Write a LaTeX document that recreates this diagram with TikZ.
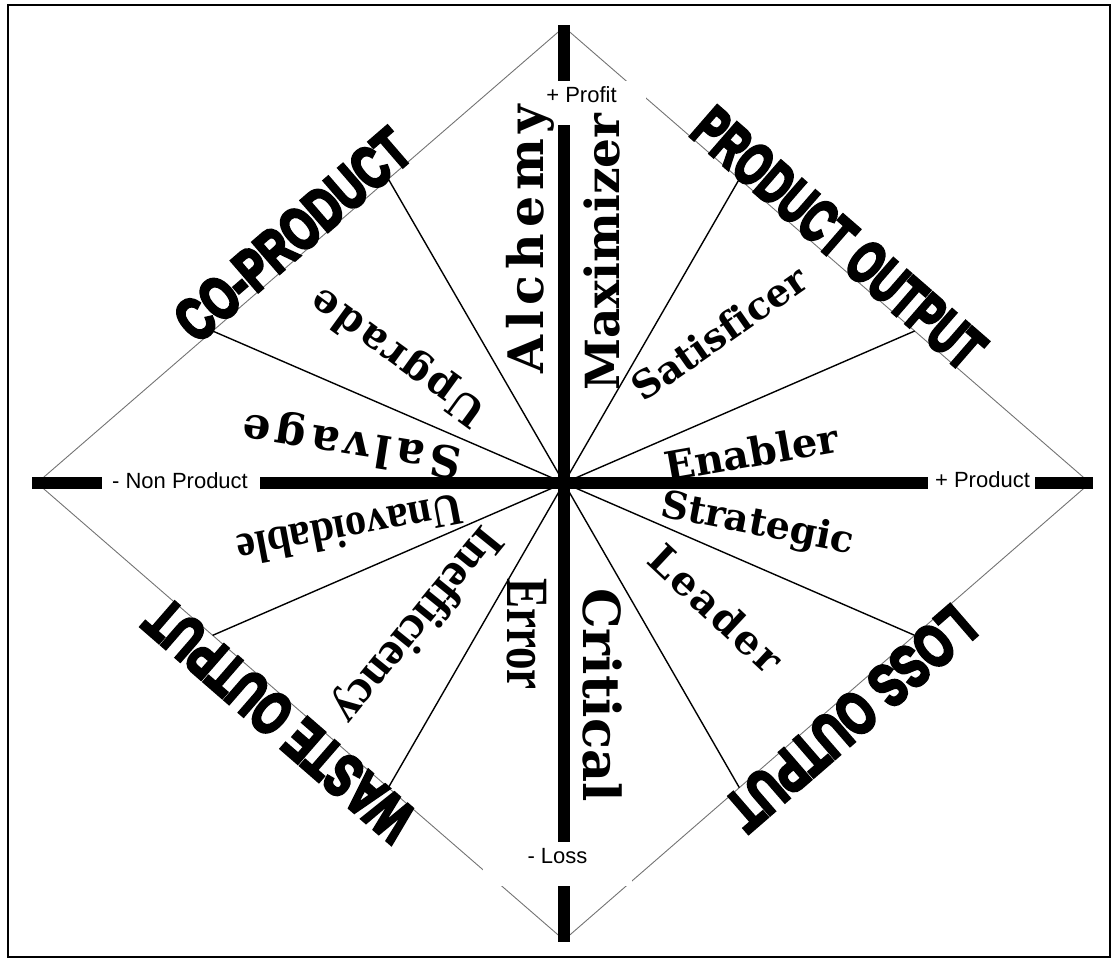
\documentclass[tikz,border=0pt]{standalone}
\usepackage{fontspec}
\setmainfont{Liberation Serif}
\newfontfamily\axfont{Liberation Sans}
\newfontfamily\bigfont{Liberation Sans Bold}[FakeBold=6]
\newfontfamily\slabfont{DejaVu Serif Bold}[Ligatures=CommonOff]
\newfontfamily\timesb{Liberation Serif Bold}[Ligatures=CommonOff]
\newcommand\ls{\kern0.12em}
\newcommand\lt{\kern0.06em}
\usetikzlibrary{calc}
\begin{document}
\begin{tikzpicture}[x=1pt,y=-1pt,
  frame/.style={line width=1.5pt},
  edge/.style={draw=black!55, line width=0.9pt},
  spoke/.style={line width=1.4pt},
  axisbar/.style={line width=12pt},
  gapbox/.style={fill=white, inner sep=0pt, minimum height=44pt},
  axtext/.style={font=\axfont\fontsize{22}{22}\selectfont, inner sep=0pt, anchor=base},
  biglbl/.style={font=\bigfont\fontsize{59}{59}\selectfont, inner sep=0pt, anchor=base},
  lbl/.style={inner sep=0pt}]
\useasboundingbox (0,0) rectangle (1117,962);
\draw[frame] (8,5) rectangle (1110,957);
% diamond vertices and centre
\coordinate (L) at (37,483);
\coordinate (T) at (564,27);
\coordinate (R) at (1090,483);
\coordinate (B) at (564,940);
\coordinate (C) at (564,483);
\draw[edge] (L) -- (T) -- (R) -- (B) -- cycle;
% spokes to the third points of each edge
\coordinate (ulA) at ($(L)!1/3!(T)$);
\coordinate (ulB) at ($(L)!2/3!(T)$);
\coordinate (urA) at ($(T)!1/3!(R)$);
\coordinate (urB) at ($(T)!2/3!(R)$);
\coordinate (lrA) at ($(R)!1/3!(B)$);
\coordinate (lrB) at ($(R)!2/3!(B)$);
\coordinate (llA) at ($(B)!1/3!(L)$);
\coordinate (llB) at ($(B)!2/3!(L)$);
\foreach \p in {ulA,ulB,urA,urB,lrA,lrB,llA,llB} \draw[spoke] (C) -- (\p);
% axes
\coordinate (axW) at (32,483);
\coordinate (axE) at (1093,483);
\coordinate (axN) at (564,25);
\coordinate (axS) at (564,942);
\draw[axisbar] (axW) -- (axE);
\draw[axisbar] (axN) -- (axS);
% axis labels
\node[gapbox, minimum width=129pt] (profitgap) at (581.5,103) {};
\node[axtext] (profit) at (581.5,102) {+ Profit};
\node[gapbox, minimum width=149pt] (lossgap) at (557.5,864) {};
\node[axtext] (loss) at (557.5,863) {- Loss};
\node[gapbox, minimum width=158pt] (nongap) at (181,483) {};
\node[axtext] (nonprod) at (180,488) {- Non Product};
\node[gapbox, minimum width=107pt] (prodgap) at (981.5,483) {};
\node[axtext] (prod) at (982.5,487) {+ Product};
% big edge labels
\node[biglbl, rotate=40.82] (coprod) at ($(L)!0.51!(T)$) {\scalebox{0.72}[1]{CO-PRODUCT}};
\node[biglbl, rotate=-40.98] (prodout) at ($(T)!0.497!(R)$) {\scalebox{0.66}[1]{PRODUCT OUTPUT}};
\node[biglbl, rotate=139.02] (wasteout) at ($(L)!0.485!(B)$) {\scalebox{0.71}[1]{WASTE OUTPUT}};
\node[biglbl, rotate=-139.07] (lossout) at ($(B)!0.519!(R)$) {\scalebox{0.73}[1]{LOSS OUTPUT}};
% sector labels
\node[lbl, rotate=90, font=\slabfont\fontsize{47}{47}\selectfont] (maxi) at (602,252) {Maximizer};
\node[lbl, rotate=90, font=\slabfont\fontsize{49}{49}\selectfont] (alch) at (530,239) {A\ls l\ls c\ls h\ls e\ls m\ls y};
\node[lbl, rotate=144, font=\slabfont\fontsize{40}{40}\selectfont] (upg) at (399,356) {U\lt p\lt g\lt r\lt a\lt d\lt e};
\node[lbl, rotate=171, font=\slabfont\fontsize{44}{44}\selectfont] (salv) at (352,443) {S\ls a\ls l\ls v\ls a\ls g\ls e};
\node[lbl, rotate=190.7, font=\timesb\fontsize{46}{46}\selectfont] (unav) at (350,530) {\scalebox{0.92}[1]{Unavoidable}};
\node[lbl, rotate=231, font=\timesb\fontsize{48}{48}\selectfont] (ineff) at (416,624) {Inefficiency};
\node[lbl, rotate=-90, font=\timesb\fontsize{60}{60}\selectfont] (err) at (527,634) {\scalebox{0.75}[1]{Error}};
\node[lbl, rotate=-90, font=\slabfont\fontsize{51}{51}\selectfont] (crit) at (603,695) {Critical};
\node[lbl, rotate=-43, font=\slabfont\fontsize{40}{40}\selectfont] (lead) at (716,608) {L\lt e\lt a\lt d\lt e\lt r};
\node[lbl, rotate=-11, font=\slabfont\fontsize{38}{38}\selectfont] (strat) at (757,525) {Strategic};
\node[lbl, rotate=10, font=\slabfont\fontsize{40}{40}\selectfont] (enab) at (751,452) {Enabler};
\node[lbl, rotate=35, font=\slabfont\fontsize{38}{38}\selectfont] (satis) at (719,333) {Satisficer};
\end{tikzpicture}
\end{document}
